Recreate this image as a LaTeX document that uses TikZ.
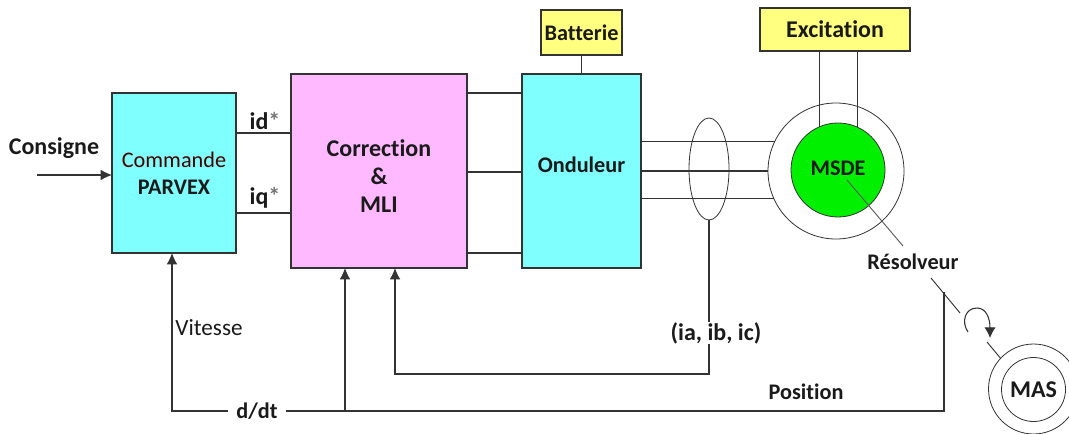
\documentclass[tikz,border=0pt]{standalone}
\usepackage{fontspec}
\setmainfont[RawFeature=-liga]{Carlito}
\usetikzlibrary{arrows.meta,shapes.geometric}
\definecolor{ln}{HTML}{333333}
\definecolor{cyanbox}{HTML}{80FFFF}
\definecolor{pinkbox}{HTML}{FFB9FF}
\definecolor{yelbox}{HTML}{FFFF80}
\definecolor{greenbox}{HTML}{00F000}
\definecolor{txt}{HTML}{1A1A1A}
\newcommand{\fsS}{\fontsize{16.7pt}{20.5pt}\selectfont\bfseries}
\newcommand{\fsL}{\fontsize{18pt}{21pt}\selectfont\bfseries}
\tikzset{
  wire/.style={draw=ln,line width=0.9pt},
  tipwire/.style={wire,-{Latex[length=8.5pt,width=8pt]}},
  blockbox/.style={draw=ln,line width=0.9pt,inner sep=0pt,outer sep=0pt,align=center,text=txt,font=\fsS},
  ring/.style={circle,draw=ln,line width=0.6pt,inner sep=0pt,outer sep=0pt,fill=white,text=txt,font=\fsS},
  lab/.style={inner sep=0pt,outer sep=0pt,text=txt,font=\fsS},
  labl/.style={lab,font=\fsL}
}
\begin{document}
\begin{tikzpicture}[x=0.75pt,y=-0.75pt]
\useasboundingbox (0,0) rectangle (1069,434);
\clip (0,0) rectangle (1069,434);
% blocks
\node[blockbox,fill=cyanbox,minimum width=93pt,minimum height=120pt] (cmd) at (174,173) {\mdseries\color{black!70!red!90!black}Commande\\PARVEX};
\node[blockbox,fill=pinkbox,minimum width=132pt,minimum height=145.5pt,font=\fsL] (cor) at (379,171) {\rule{0pt}{20pt}Correction\\\&\\MLI};
\node[blockbox,fill=cyanbox,minimum width=89.25pt,minimum height=145.5pt] (ond) at (581.5,171) {\raisebox{9pt}{Onduleur}};
\node[blockbox,fill=yelbox,minimum width=60.75pt,minimum height=33.75pt] (bat) at (581.5,32.5) {Batterie};
\node[blockbox,fill=yelbox,minimum width=112.5pt,minimum height=32.25pt,font=\fsL] (exc) at (835,29.5) {Excitation};
% machines
\node[ring,minimum size=102pt] (sta) at (836,171) {};
\node[ring,fill=greenbox,minimum size=70.5pt] (rot) at (838,170) {\raisebox{3pt}{MSDE}};
\node[ring,minimum size=67.5pt] (maso) at (1033.5,389) {};
\node[ring,minimum size=48pt,font=\fsL] (masi) at (1033.5,389.5) {MAS};
\node[ellipse,draw=ln,line width=0.6pt,inner sep=0pt,outer sep=0pt,minimum width=30pt,minimum height=76.5pt] (ell) at (709,169) {};
% labels
\node[labl] (cons) at (54,148) {Consigne};
\node[labl] (idl) at (265,121) {id\textcolor{black!55}{*}};
\node[labl] (iql) at (265,198) {iq\textcolor{black!55}{*}};
\node[lab] (res) at (913,262) {Résolveur};
\node[lab] (pos) at (806,392) {Position};
\node[labl] (iabc) at (716,333) {(ia, ib, ic)};
\node[labl,font=\fontsize{17.4pt}{20pt}\selectfont] (vit) at (209,328) {Vitesse};
\node[lab,inner xsep=6pt] (dd) at (257,411) {d/dt};
% helper points
\coordinate (y1) at (0,133);
\coordinate (y2) at (0,213);
\coordinate (w1) at (0,93);
\coordinate (w2) at (0,172);
\coordinate (w3) at (0,253);
\coordinate (cin) at (37,175);
\coordinate (vc) at (172,411);
\coordinate (jn) at (345,411);
\coordinate (pc) at (944,411);
\coordinate (pt) at (944,292);
\coordinate (fbc) at (395,374);
\coordinate (fbr) at (709,374);
\coordinate (r0) at (847,180);
\coordinate (r1) at (903,246);
\coordinate (r2) at (931,278);
\coordinate (r3) at (960,313);
\coordinate (r4) at (987,342);
\coordinate (c1) at (968,332);
\coordinate (c2) at (977,308);
\coordinate (c3) at (990,338);
% connectors
\draw[tipwire] (cin) -- (cmd.west |- cin);
\draw[wire] (cmd.east |- y1) -- (cor.west |- y1);
\draw[wire] (cmd.east |- y2) -- (cor.west |- y2);
\draw[wire] (cor.east |- w1) -- (ond.west |- w1);
\draw[wire] (cor.east |- w2) -- (ond.west |- w2);
\draw[wire] (cor.east |- w3) -- (ond.west |- w3);
\draw[wire] (bat.south) -- (ond.north);
\draw[wire] (ond.east |- sta.154) -- (sta.154);
\draw[wire] (ond.east |- sta.west) -- (sta.west);
\draw[wire] (ond.east |- sta.204.3) -- (sta.204.3);
\draw[wire] (exc.south -| rot.113.8) -- (rot.113.8);
\draw[wire] (exc.south -| rot.66.2) -- (rot.66.2);
\draw[wire] (ell.south) -- (ell.south |- iabc.north);
\draw[tipwire] (iabc.south -| fbr) -- (fbr) -- (fbc) -- (fbc |- cor.south);
\draw[tipwire] (dd.west) -- (vc) -- (vc |- cmd.south);
\draw[wire] (dd.east) -- (pc) -- (pt);
\draw[tipwire] (jn) -- (jn |- cor.south);
\draw[draw=ln!80,line width=0.7pt] (r0) -- (r1);
\draw[draw=ln,line width=0.7pt] (r2) -- (r3);
\draw[draw=ln,line width=0.7pt] (r4) -- (maso.137);
\draw[draw=ln,line width=0.8pt,-{Latex[length=8pt,width=8.5pt]}] (c1) .. controls (961,322) and (965,308) .. (c2) .. controls (986,308) and (990,318) .. (c3);
\end{tikzpicture}
\end{document}
